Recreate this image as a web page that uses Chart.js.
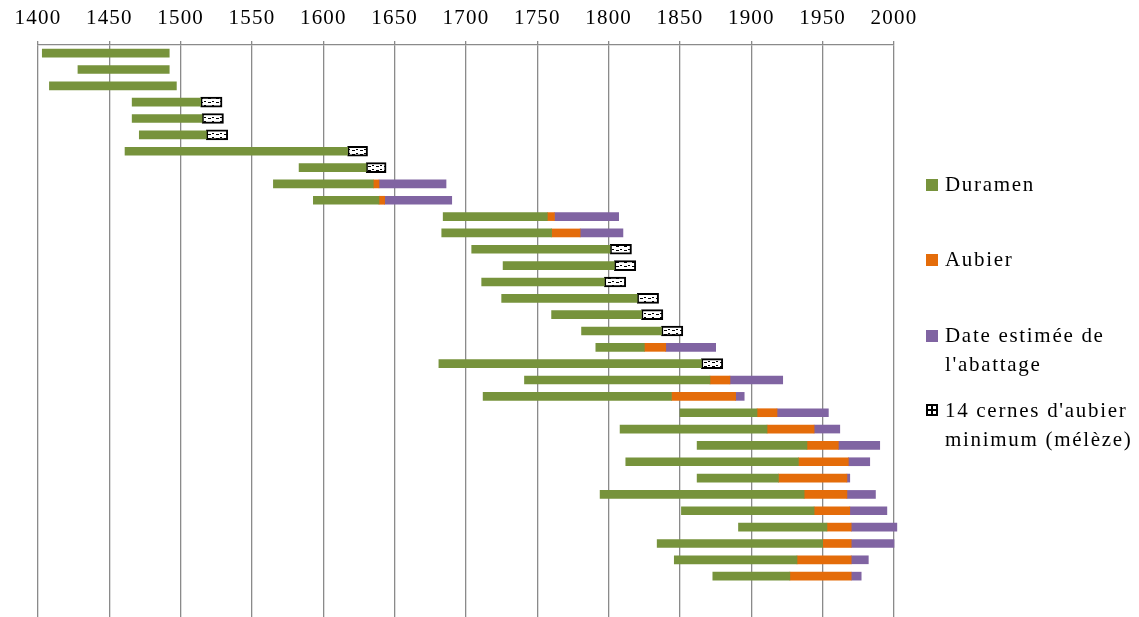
<!DOCTYPE html>
<html>
<head>
<meta charset="utf-8">
<style>
  html, body { margin: 0; padding: 0; background: #fff; }
  #wrap { position: relative; width: 1139px; height: 617px; }
  #myChart { position: absolute; left: 0; top: 0; }
  .leg { position: absolute; left: 945px; font-family: "Liberation Serif", Tinos, "DejaVu Serif", serif; font-size: 21px; letter-spacing: 1.7px; line-height: 29px; color: #000; white-space: nowrap; }
  .sw { position: absolute; left: 926px; width: 12px; height: 12px; }
  .box { background: #000; }
  .box i { position: absolute; background: #fff; }
</style>
<script src="https://cdn.jsdelivr.net/npm/chart.js"></script>
</head>
<body>
<div id="wrap">
  <canvas id="myChart" width="1139" height="617"></canvas>

  <div class="sw" style="top:179px;background:#77933C"></div>
  <div class="leg" style="top:170px">Duramen</div>

  <div class="sw" style="top:254px;background:#E46C0A"></div>
  <div class="leg" style="top:245px">Aubier</div>

  <div class="sw" style="top:330px;background:#8064A2"></div>
  <div class="leg" style="top:321px">Date estimée de<br>l'abattage</div>

  <div class="sw box" style="top:404px">
    <i style="left:2px;top:2px;width:3px;height:3px"></i>
    <i style="left:7px;top:2px;width:3px;height:3px"></i>
    <i style="left:2px;top:7px;width:3px;height:3px"></i>
    <i style="left:7px;top:7px;width:3px;height:3px"></i>
  </div>
  <div class="leg" style="top:396px">14 cernes d'aubier<br>minimum (mélèze)</div>
</div>

<script>
  // one row per piece of wood, top to bottom
  // duramen start / end, aubier end, estimated felling end, 14-ring minimum end
  const rows = ['1','2','3','4','5','6','7','8','9','10','11','12','13','14','15','16','17','18','19','20','21','22','23','24','25','26','27','28','29','30','31','32','33','','']
  const heartStart = [1403,1428,1408,1466,1466,1471,1461,1583,1565,1593,1684,1683,1704,1726,1711,1725,1760,1781,1791,1681,1741,1712,1850,1808,1862,1812,1862,1794,1851,1891,1834,1846,1873]
  const heartEnd   = [1492,1492,1497,1514,1515,1518,1617,1630,1635,1639,1757,1760,1801,1804,1797,1820,1823,1837,1825,1865,1871,1844,1904,1911,1939,1933,1919,1937,1944,1953,1950,1932,1927]
  const sapEnd     = [null,null,null,null,null,null,null,null,1639,1643,1762,1780,null,null,null,null,null,null,1840,null,1885,1889,1918,1944,1961,1968,1967,1967,1969,1970,1970,1970,1970]
  const fellEnd    = [null,null,null,null,null,null,null,null,1686,1690,1807,1810,null,null,null,null,null,null,1875,null,1922,1895,1954,1962,1990,1983,1969,1987,1995,2002,2000,1982,1977]
  const ringsEnd   = [null,null,null,1529,1530,1533,1631,1644,null,null,null,null,1816,1819,1812,1835,1838,1852,null,1880,null,null,null,null,null,null,null,null,null,null,null,null,null]

  const xTicks = [1400,1450,1500,1550,1600,1650,1700,1750,1800,1850,1900,1950,2000]

  const duramen = heartStart.map((s, i) => [s, heartEnd[i]])
  const aubier = sapEnd.map((v, i) => v == null ? null : [heartEnd[i], v])
  const abattage = fellEnd.map((v, i) => v == null ? null : [sapEnd[i], v])
  const cernes = ringsEnd.map((v, i) => v == null ? null : [heartEnd[i], v])

  // black & white pattern for the 14 rings box
  const tile = document.createElement('canvas')
  tile.width = 8
  tile.height = 4
  const tc = tile.getContext('2d')
  tc.fillStyle = '#fff'
  tc.fillRect(0, 0, 8, 4)
  tc.fillStyle = '#000'
  tc.fillRect(0, 2, 3, 1)
  tc.fillRect(4, 1, 2, 1)
  const ctx = document.getElementById('myChart')
  const pattern = ctx.getContext('2d').createPattern(tile, 'repeat')

  const spacing = {
    id: 'spacing',
    beforeLayout: (chart) => { chart.ctx.letterSpacing = '1.2px' },
    beforeDraw: (chart) => { chart.ctx.letterSpacing = '1.2px' }
  }

  const grey = '#8a8a8a'

  new Chart(ctx, {
    type: 'bar',
    data: {
      labels: rows,
      datasets: [
        { label: 'Duramen', data: duramen, backgroundColor: '#77933C', barThickness: 8 },
        { label: 'Aubier', data: aubier, backgroundColor: '#E46C0A', barThickness: 8 },
        { label: "Date estimée de l'abattage", data: abattage, backgroundColor: '#8064A2', barThickness: 8, clip: false },
        { label: "14 cernes d'aubier minimum (mélèze)", data: cernes, backgroundColor: pattern, borderColor: '#000', borderWidth: 2, borderSkipped: false, barThickness: 10 }
      ]
    },
    options: {
      indexAxis: 'y',
      responsive: false,
      animation: false,
      layout: { padding: { left: 38, right: 245, top: 0, bottom: 0 } },
      plugins: {
        legend: { display: false },
        tooltip: { enabled: false }
      },
      scales: {
        x: {
          position: 'top',
          min: 1400,
          max: 2000,
          afterBuildTicks: (s) => { s.ticks = xTicks.map(v => ({ value: v })) },
          afterFit: (s) => { s.height = 45 },
          ticks: {
            padding: 10,
            color: '#000',
            font: { family: '"Liberation Serif", Tinos, "DejaVu Serif", serif', size: 21 },
            callback: (v) => String(v)
          },
          grid: { color: grey, lineWidth: 1.3, tickLength: 4 },
          border: { color: grey, width: 1.3 }
        },
        y: {
          display: false,
          stacked: true
        }
      }
    },
    plugins: [spacing]
  })
</script>
</body>
</html>
